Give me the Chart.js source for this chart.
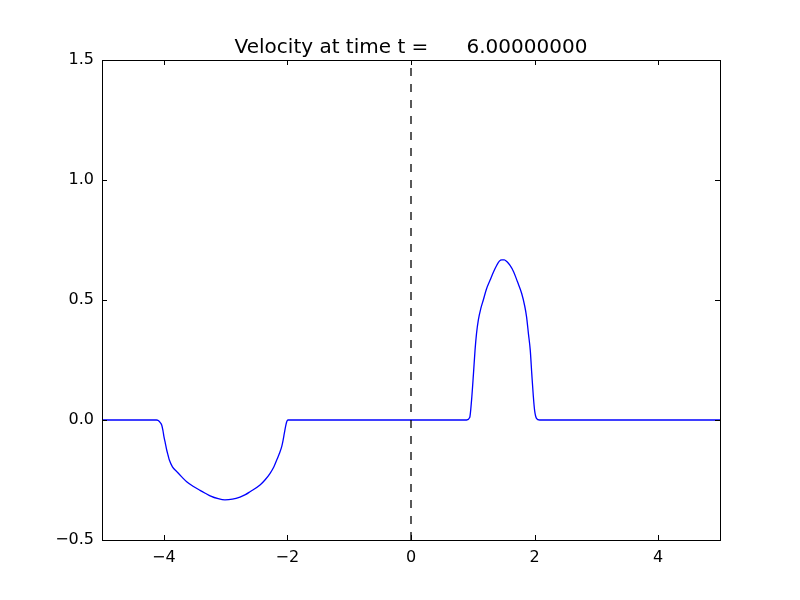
<!DOCTYPE html>
<html>
<head>
<meta charset="utf-8">
<script src="https://cdn.jsdelivr.net/npm/chart.js@4/dist/chart.umd.min.js"></script>
<style>
  html, body { margin: 0; padding: 0; background: #fff; }
  #chart { display: block; }
</style>
</head>
<body>
<canvas id="chart" width="800" height="600"></canvas>
<script>
// Velocity profile
const velocityX = [
    -5, -4.2, -4.12, -4.089, -4.06, -4.034, -4.015, -3.997, -3.975, -3.953, -3.93, -3.91,
    -3.86, -3.79, -3.71, -3.63, -3.52, -3.414, -3.33, -3.25, -3.12, -3.01, -2.89, -2.767,
    -2.68, -2.605, -2.443, -2.36, -2.28, -2.22, -2.173, -2.13, -2.092, -2.07, -2.05, -2.03,
    -2.011, -1.99, -1.9,
    0.85, 0.9, 0.95, 0.98, 1.01, 1.036, 1.06, 1.09, 1.13, 1.17, 1.22, 1.28, 1.34, 1.39,
    1.43, 1.47, 1.51, 1.55, 1.60, 1.66, 1.72, 1.79, 1.84, 1.87, 1.90, 1.93, 1.955,
    1.98, 2.00, 2.03, 2.08, 2.15, 5
];
const velocityY = [
    0, 0, 0, -0.002, -0.01, -0.021, -0.042, -0.07, -0.097, -0.125, -0.148, -0.167,
    -0.195, -0.215, -0.237, -0.257, -0.277, -0.293, -0.305, -0.316, -0.328, -0.333, -0.330, -0.321,
    -0.311, -0.299, -0.271, -0.249, -0.222, -0.196, -0.167, -0.14, -0.111, -0.085, -0.056, -0.028,
    -0.007, 0, 0,
    0, 0, 0.01, 0.083, 0.19, 0.29, 0.36, 0.417, 0.465, 0.5, 0.545, 0.583, 0.62, 0.646,
    0.662, 0.667, 0.667, 0.66, 0.645, 0.618, 0.578, 0.528, 0.475, 0.43, 0.36, 0.29, 0.19,
    0.097, 0.04, 0.007, 0, 0, 0
];

// Dashed marker at x = 0
const markerX = [0, 0];
const markerY = [-0.5, 1.5];

const xTicks = [-4, -2, 0, 2, 4];
const yTicks = [-0.5, 0.0, 0.5, 1.0, 1.5];

const titleText = 'Velocity at time t =      6.00000000';
const FONT = "'DejaVu Sans', sans-serif";

function fmtMinus(s) {
    return s.replace('-', '\u2212');
}

// Box, inward tick marks on all four sides, and a title centred over the axes
const frameTicks = {
    id: 'frameTicks',
    afterDatasetsDraw(chart) {
        const { ctx, chartArea: a, scales } = chart;
        ctx.save();
        ctx.strokeStyle = '#000';
        ctx.lineWidth = 1;
        ctx.strokeRect(a.left + 0.5, a.top + 0.5, a.right - a.left, a.bottom - a.top);
        const len = 5;
        ctx.beginPath();
        xTicks.forEach(v => {
            const px = Math.round(scales.x.getPixelForValue(v)) + 0.5;
            ctx.moveTo(px, a.bottom); ctx.lineTo(px, a.bottom - len);
            ctx.moveTo(px, a.top); ctx.lineTo(px, a.top + len);
        });
        yTicks.forEach(v => {
            const py = Math.round(scales.y.getPixelForValue(v)) + 0.5;
            ctx.moveTo(a.left, py); ctx.lineTo(a.left + len, py);
            ctx.moveTo(a.right, py); ctx.lineTo(a.right - len, py);
        });
        ctx.stroke();

        ctx.fillStyle = '#000';
        ctx.font = `20px ${FONT}`;
        ctx.textAlign = 'center';
        ctx.textBaseline = 'alphabetic';
        ctx.fillText(titleText, (a.left + a.right) / 2, a.top - 7);
        ctx.restore();
    }
};

const ctx = document.getElementById('chart').getContext('2d');
new Chart(ctx, {
    type: 'scatter',
    data: {
        datasets: [
            {
                data: velocityX.map((x, i) => ({ x, y: velocityY[i] })),
                showLine: true,
                borderColor: '#0000ff',
                borderWidth: 1.3,
                pointRadius: 0,
                cubicInterpolationMode: 'monotone',
                order: 2
            },
            {
                data: markerX.map((x, i) => ({ x, y: markerY[i] })),
                showLine: true,
                borderColor: '#000000',
                borderWidth: 1.3,
                borderDash: [8, 8],
                pointRadius: 0,
                order: 1
            }
        ]
    },
    options: {
        responsive: false,
        animation: false,
        layout: { padding: { left: 0, right: 80, top: 60, bottom: 0 } },
        plugins: {
            legend: { display: false },
            tooltip: { enabled: false },
            title: { display: false }
        },
        scales: {
            x: {
                type: 'linear',
                min: -5,
                max: 5,
                grid: { display: false, drawTicks: false },
                border: { display: false },
                afterBuildTicks(scale) {
                    scale.ticks = xTicks.map(v => ({ value: v }));
                },
                afterFit(scale) { scale.height = 60; },
                ticks: {
                    color: '#000',
                    padding: 8,
                    maxRotation: 0,
                    font: { family: FONT, size: 16 },
                    callback: v => fmtMinus(String(v))
                }
            },
            y: {
                type: 'linear',
                min: -0.5,
                max: 1.5,
                grid: { display: false, drawTicks: false },
                border: { display: false },
                afterBuildTicks(scale) {
                    scale.ticks = yTicks.map(v => ({ value: v }));
                },
                afterFit(scale) { scale.width = 102; },
                ticks: {
                    color: '#000',
                    padding: 8,
                    font: { family: FONT, size: 16 },
                    callback: v => fmtMinus(Number(v).toFixed(1))
                }
            }
        }
    },
    plugins: [frameTicks]
});
</script>
</body>
</html>
